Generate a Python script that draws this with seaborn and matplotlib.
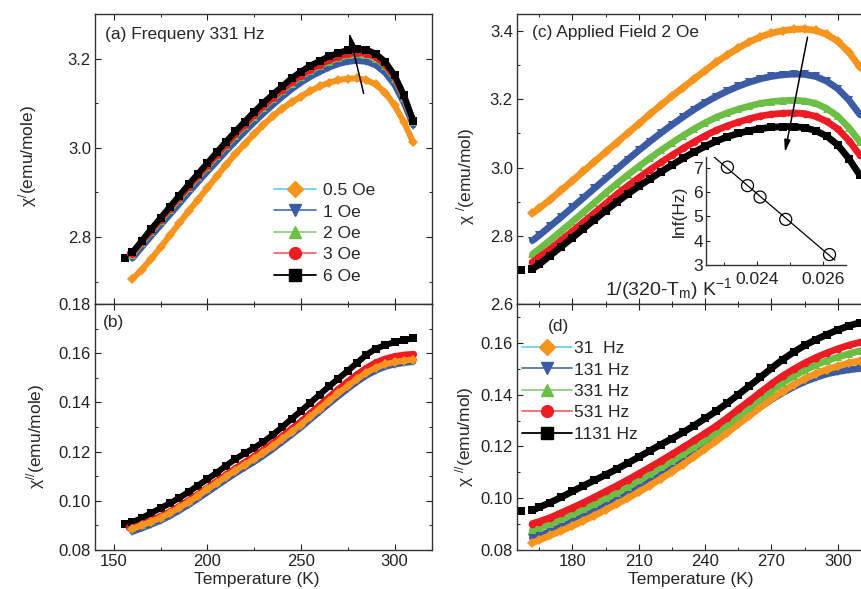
import numpy as np
import pandas as pd
import matplotlib
matplotlib.use("Agg")
import matplotlib.pyplot as plt
import seaborn as sns
from matplotlib.lines import Line2D
from matplotlib.ticker import MultipleLocator

# ---------------- data ----------------
temp_ab = [160, 165, 170, 175, 180, 185, 190, 195, 200, 205, 210, 215, 220, 225, 230,
           235, 240, 245, 250, 255, 260, 265, 270, 275, 280, 285, 290, 295, 300, 305, 310]
temp_cd = [162, 165, 170, 175, 180, 185, 190, 195, 200, 205, 210, 215, 220, 225, 230,
           235, 240, 245, 250, 255, 260, 265, 270, 275, 280, 285, 290, 295, 300, 305, 310]

field_labels = ["0.5 Oe", "1 Oe", "2 Oe", "3 Oe", "6 Oe"]
freq_labels = ["31  Hz", "131 Hz", "331 Hz", "531 Hz", "1131 Hz"]

# (a) chi' at 331 Hz for different fields
a_05 = [2.706, 2.727, 2.751, 2.777, 2.804, 2.831, 2.858, 2.884, 2.910, 2.936, 2.962, 2.986, 3.009, 3.031, 3.052,
        3.071, 3.088, 3.102, 3.115, 3.127, 3.138, 3.146, 3.152, 3.155, 3.156, 3.152, 3.142, 3.124, 3.095, 3.058, 3.012]
a_1 = [2.752, 2.777, 2.802, 2.826, 2.850, 2.874, 2.899, 2.923, 2.946, 2.969, 2.992, 3.014, 3.036, 3.057, 3.077,
       3.096, 3.114, 3.131, 3.146, 3.159, 3.170, 3.180, 3.188, 3.193, 3.195, 3.193, 3.185, 3.168, 3.141, 3.100, 3.050]
a_2 = [2.760, 2.786, 2.811, 2.836, 2.861, 2.885, 2.910, 2.934, 2.957, 2.981, 3.004, 3.027, 3.049, 3.070, 3.090,
       3.109, 3.127, 3.144, 3.159, 3.172, 3.183, 3.193, 3.201, 3.207, 3.210, 3.208, 3.200, 3.183, 3.155, 3.112, 3.058]
a_3 = [2.763, 2.789, 2.814, 2.839, 2.864, 2.888, 2.913, 2.937, 2.960, 2.984, 3.007, 3.030, 3.052, 3.073, 3.093,
       3.112, 3.130, 3.147, 3.162, 3.175, 3.186, 3.196, 3.204, 3.210, 3.213, 3.211, 3.203, 3.186, 3.158, 3.115, 3.061]
a_6 = [2.766, 2.792, 2.818, 2.843, 2.868, 2.893, 2.918, 2.942, 2.966, 2.990, 3.014, 3.037, 3.059, 3.081, 3.101,
       3.120, 3.138, 3.156, 3.171, 3.184, 3.195, 3.205, 3.213, 3.219, 3.222, 3.220, 3.211, 3.193, 3.163, 3.118, 3.060]

# (b) chi'' at 331 Hz for different fields
b_05 = [0.0887, 0.0900, 0.0915, 0.0931, 0.0950, 0.0972, 0.0995, 0.1020, 0.1046, 0.1072, 0.1098, 0.1123, 0.1147, 0.1170, 0.1195,
        0.1222, 0.1251, 0.1280, 0.1310, 0.1342, 0.1374, 0.1406, 0.1437, 0.1467, 0.1495, 0.1521, 0.1541, 0.1555, 0.1564, 0.1570, 0.1574]
b_1 = [0.0874, 0.0888, 0.0903, 0.0919, 0.0938, 0.0960, 0.0983, 0.1008, 0.1034, 0.1060, 0.1086, 0.1111, 0.1135, 0.1158, 0.1183,
       0.1210, 0.1239, 0.1268, 0.1298, 0.1330, 0.1362, 0.1394, 0.1425, 0.1455, 0.1483, 0.1509, 0.1529, 0.1545, 0.1554, 0.1560, 0.1565]
b_2 = [0.0888, 0.0902, 0.0918, 0.0934, 0.0953, 0.0975, 0.0999, 0.1024, 0.1050, 0.1077, 0.1103, 0.1128, 0.1153, 0.1176, 0.1202,
       0.1229, 0.1258, 0.1288, 0.1318, 0.1350, 0.1383, 0.1415, 0.1447, 0.1477, 0.1506, 0.1532, 0.1553, 0.1568, 0.1578, 0.1585, 0.1589]
b_3 = [0.0890, 0.0905, 0.0921, 0.0938, 0.0957, 0.0979, 0.1003, 0.1028, 0.1054, 0.1081, 0.1107, 0.1133, 0.1158, 0.1182, 0.1208,
       0.1235, 0.1264, 0.1294, 0.1324, 0.1357, 0.1390, 0.1423, 0.1455, 0.1486, 0.1515, 0.1541, 0.1563, 0.1578, 0.1588, 0.1594, 0.1597]
b_6 = [0.0913, 0.0930, 0.0950, 0.0970, 0.0990, 0.1012, 0.1036, 0.1062, 0.1088, 0.1114, 0.1143, 0.1170, 0.1193, 0.1215, 0.1240,
       0.1268, 0.1300, 0.1333, 0.1365, 0.1398, 0.1432, 0.1465, 0.1497, 0.1528, 0.1561, 0.1594, 0.1618, 0.1633, 0.1645, 0.1654, 0.1660]

# (c) chi' at 2 Oe for different frequencies
c_31 = [2.866, 2.880, 2.906, 2.933, 2.961, 2.989, 3.017, 3.045, 3.073, 3.100, 3.128, 3.156, 3.183, 3.209, 3.234,
        3.259, 3.284, 3.308, 3.330, 3.350, 3.368, 3.383, 3.394, 3.401, 3.405, 3.406, 3.402, 3.390, 3.370, 3.338, 3.295]
c_131 = [2.786, 2.801, 2.828, 2.855, 2.883, 2.911, 2.939, 2.967, 2.995, 3.023, 3.050, 3.076, 3.101, 3.125, 3.148,
         3.170, 3.190, 3.208, 3.224, 3.238, 3.250, 3.260, 3.267, 3.272, 3.274, 3.273, 3.267, 3.253, 3.231, 3.198, 3.155]
c_331 = [2.746, 2.761, 2.787, 2.814, 2.841, 2.869, 2.897, 2.925, 2.952, 2.978, 3.003, 3.027, 3.050, 3.072, 3.093,
         3.113, 3.131, 3.147, 3.160, 3.171, 3.180, 3.188, 3.193, 3.196, 3.197, 3.195, 3.188, 3.173, 3.150, 3.117, 3.075]
c_531 = [2.723, 2.737, 2.761, 2.787, 2.813, 2.840, 2.867, 2.894, 2.921, 2.946, 2.970, 2.993, 3.015, 3.036, 3.056,
         3.075, 3.093, 3.109, 3.122, 3.133, 3.143, 3.151, 3.156, 3.159, 3.160, 3.158, 3.150, 3.135, 3.113, 3.079, 3.036]
c_1131 = [2.703, 2.716, 2.742, 2.768, 2.794, 2.821, 2.847, 2.873, 2.898, 2.922, 2.945, 2.966, 2.987, 3.007, 3.027,
          3.045, 3.062, 3.077, 3.090, 3.100, 3.108, 3.114, 3.118, 3.120, 3.120, 3.117, 3.108, 3.092, 3.066, 3.026, 2.977]

# (d) chi'' at 2 Oe for different frequencies
d_31 = [0.0828, 0.0838, 0.0856, 0.0874, 0.0893, 0.0913, 0.0933, 0.0955, 0.0977, 0.1000, 0.1024, 0.1049, 0.1075, 0.1102, 0.1130,
        0.1160, 0.1190, 0.1221, 0.1253, 0.1286, 0.1318, 0.1351, 0.1383, 0.1412, 0.1438, 0.1461, 0.1481, 0.1497, 0.1510, 0.1522, 0.1531]
d_131 = [0.0846, 0.0855, 0.0872, 0.0890, 0.0909, 0.0929, 0.0949, 0.0970, 0.0992, 0.1015, 0.1039, 0.1063, 0.1088, 0.1114, 0.1141,
         0.1170, 0.1199, 0.1229, 0.1260, 0.1291, 0.1322, 0.1352, 0.1381, 0.1407, 0.1430, 0.1450, 0.1466, 0.1480, 0.1489, 0.1496, 0.1501]
d_331 = [0.0878, 0.0886, 0.0901, 0.0919, 0.0938, 0.0957, 0.0978, 0.1000, 0.1022, 0.1045, 0.1069, 0.1094, 0.1119, 0.1144, 0.1170,
         0.1197, 0.1225, 0.1254, 0.1285, 0.1317, 0.1350, 0.1383, 0.1415, 0.1445, 0.1471, 0.1494, 0.1514, 0.1531, 0.1545, 0.1558, 0.1569]
d_531 = [0.0902, 0.0910, 0.0925, 0.0944, 0.0963, 0.0983, 0.1004, 0.1026, 0.1048, 0.1071, 0.1095, 0.1119, 0.1144, 0.1170, 0.1196,
         0.1223, 0.1251, 0.1279, 0.1310, 0.1343, 0.1376, 0.1409, 0.1442, 0.1472, 0.1498, 0.1522, 0.1543, 0.1561, 0.1577, 0.1591, 0.1602]
d_1131 = [0.0953, 0.0965, 0.0983, 0.1004, 0.1026, 0.1048, 0.1069, 0.1090, 0.1112, 0.1135, 0.1159, 0.1183, 0.1207, 0.1230, 0.1254,
          0.1280, 0.1308, 0.1336, 0.1367, 0.1400, 0.1433, 0.1467, 0.1502, 0.1535, 0.1564, 0.1590, 0.1612, 0.1632, 0.1650, 0.1666, 0.1678]

# isolated first points (black and red) that sit apart from the bands
lead_a_T = [156.0, 158.5]
lead_a_chi = [2.754, 2.764]
lead_b_T = [156.2, 158.0]
lead_b_chi = [0.0906, 0.0895]
lead_c_T = [157.0]
lead_c_chi = [2.699]
lead_d_T = [156.7]
lead_d_chi = [0.0949]

# inset: ln f vs 1/(320 - Tm)
inset_x = [0.02310, 0.02371, 0.02409, 0.02487, 0.02620]
inset_lnf = [7.03, 6.27, 5.80, 4.88, 3.43]
fit_x_range = [0.02266, 0.02636]

# ---------------- style ----------------
sns.set_style("ticks")
plt.rcParams.update({
    "xtick.direction": "in", "ytick.direction": "in",
    "xtick.top": True, "ytick.right": True,
    "xtick.major.size": 4, "ytick.major.size": 4,
    "xtick.minor.size": 2.5, "ytick.minor.size": 2.5,
    "xtick.major.width": 0.8, "ytick.major.width": 0.8,
    "xtick.minor.width": 0.7, "ytick.minor.width": 0.7,
    "xtick.color": "#222222", "ytick.color": "#222222",
    "axes.edgecolor": "#333333", "axes.linewidth": 1.0,
    "xtick.labelsize": 12, "ytick.labelsize": 12,
    "axes.labelsize": 12.5,
    "mathtext.fontset": "custom",
    "mathtext.rm": "Liberation Sans",
    "mathtext.it": "Liberation Sans:italic",
})
plt.rcParams["font.family"] = ["Liberation Sans", "DejaVu Sans"]

ORANGE, BLUE, GREEN, RED, BLACK = "#F7941D", "#3B5BA5", "#6DBE45", "#ED1C24", "#000000"
series_colors = [ORANGE, BLUE, GREEN, RED, BLACK]
legend_line_colors = ["#6DCFF6", "#5577BB", "#8FD07A", "#F26B6B", "#000000"]
series_markers = ["D", "v", "^", "o", "s"]

W, H = 861, 589
fig = plt.figure(figsize=(W / 100, H / 100), dpi=100)


def rect(l, t, r, b):
    return [l / W, 1 - b / H, (r - l) / W, (b - t) / H]


ax_a = fig.add_axes(rect(95, 14, 432, 304))
ax_b = fig.add_axes(rect(95, 304, 432, 550))
ax_c = fig.add_axes(rect(517, 14, 871, 304))
ax_d = fig.add_axes(rect(517, 304, 871, 550))


def draw_panel(ax, temps, values, labels, draw_order, lw, ms):
    frames = [pd.DataFrame({"T": temps, "chi": v, "series": lab}) for lab, v in zip(labels, values)]
    df = pd.concat(frames, ignore_index=True)
    order = [labels[i] for i in draw_order]
    sns.lineplot(data=df, x="T", y="chi", hue="series", style="series",
                 hue_order=order, style_order=order,
                 palette=dict(zip(labels, series_colors)),
                 markers=dict(zip(labels, series_markers)),
                 dashes=False, lw=lw, markersize=ms, markeredgewidth=0,
                 legend=False, sort=False, estimator=None, ax=ax)


def draw_lead(ax, T, chi, idx):
    for t, c, i in zip(T, chi, idx):
        sns.scatterplot(x=[t], y=[c], marker=series_markers[i], color=series_colors[i],
                        s=30, linewidth=0, ax=ax, legend=False)


draw_panel(ax_a, temp_ab, [a_05, a_1, a_2, a_3, a_6], field_labels, [0, 1, 2, 3, 4], 4.4, 5.2)
draw_lead(ax_a, lead_a_T, lead_a_chi, [4, 3])
draw_panel(ax_b, temp_ab, [b_05, b_1, b_2, b_3, b_6], field_labels, [4, 1, 2, 3, 0], 4.4, 5.2)
draw_lead(ax_b, lead_b_T, lead_b_chi, [4, 3])
draw_panel(ax_c, temp_cd, [c_31, c_131, c_331, c_531, c_1131], freq_labels, [0, 1, 2, 3, 4], 4.9, 5.5)
draw_lead(ax_c, lead_c_T, lead_c_chi, [4])
draw_panel(ax_d, temp_cd, [d_31, d_131, d_331, d_531, d_1131], freq_labels, [1, 0, 2, 3, 4], 4.9, 5.5)
draw_lead(ax_d, lead_d_T, lead_d_chi, [4])

# axes limits & ticks
for ax in (ax_a, ax_b):
    ax.set_xlim(140, 320)
    ax.xaxis.set_major_locator(MultipleLocator(50))
    ax.xaxis.set_minor_locator(MultipleLocator(25))
for ax in (ax_c, ax_d):
    ax.set_xlim(155, 315)
    ax.xaxis.set_major_locator(MultipleLocator(30))
    ax.xaxis.set_minor_locator(MultipleLocator(15))

ax_a.set_ylim(2.65, 3.3)
ax_a.yaxis.set_major_locator(MultipleLocator(0.2))
ax_a.yaxis.set_minor_locator(MultipleLocator(0.1))
ax_b.set_ylim(0.08, 0.18)
ax_b.yaxis.set_major_locator(MultipleLocator(0.02))
ax_b.yaxis.set_minor_locator(MultipleLocator(0.01))
ax_c.set_ylim(2.6, 3.45)
ax_c.yaxis.set_major_locator(MultipleLocator(0.2))
ax_c.yaxis.set_minor_locator(MultipleLocator(0.1))
ax_d.set_ylim(0.08, 0.175)
ax_d.yaxis.set_major_locator(MultipleLocator(0.02))
ax_d.yaxis.set_minor_locator(MultipleLocator(0.01))

ax_a.yaxis.set_major_formatter(lambda v, p: f"{v:.1f}")
ax_c.yaxis.set_major_formatter(lambda v, p: f"{v:.1f}")
ax_b.yaxis.set_major_formatter(lambda v, p: f"{v:.2f}")
ax_d.yaxis.set_major_formatter(lambda v, p: f"{v:.2f}")

for ax in (ax_a, ax_b, ax_c, ax_d):
    ax.tick_params(which="both", top=True, right=True, pad=3)
    for sp in ax.spines.values():
        sp.set_visible(True)
    ax.set_xlabel("")
    ax.set_ylabel("")

ax_a.tick_params(axis="x", labelbottom=False)
ax_c.tick_params(axis="x", labelbottom=False)

ax_a.set_ylabel(r"χ$^{/}$(emu/mole)")
ax_a.yaxis.set_label_coords(-0.167, 0.51)
ax_b.set_ylabel(r"χ$^{//}$(emu/mole)")
ax_b.yaxis.set_label_coords(-0.143, 0.463)
ax_c.set_ylabel(r"χ $^{/}$(emu/mol)")
ax_c.yaxis.set_label_coords(-0.112, 0.44)
ax_d.set_ylabel(r"χ $^{//}$(emu/mol)")
ax_d.yaxis.set_label_coords(-0.115, 0.46)
ax_b.set_xlabel("Temperature (K)")
ax_b.xaxis.set_label_coords(0.48, -0.09)
ax_d.set_xlabel("Temperature (K)")
ax_d.xaxis.set_label_coords(0.49, -0.09)

# panel annotations
fig.text(105 / W, 1 - 34 / H, "(a) Frequeny 331 Hz", fontsize=12.5, va="center")
fig.text(103 / W, 1 - 322 / H, "(b)", fontsize=12.5, va="center")
fig.text(532 / W, 1 - 33 / H, "(c) Applied Field 2 Oe", fontsize=12.5, va="center")
fig.text(548 / W, 1 - 326 / H, "(d)", fontsize=12.5, va="center")

# arrows
arrow_style = dict(arrowstyle="-|>,head_width=0.18,head_length=0.7", color="black", lw=1.1, shrinkA=0, shrinkB=0)
ax_a.annotate("", xy=(275.7, 3.258), xytext=(283.5, 3.122), arrowprops=arrow_style)
ax_c.annotate("", xy=(276.1, 3.045), xytext=(286.3, 3.382), arrowprops=arrow_style)

# legends
def make_handles(labels):
    return [Line2D([0], [0], color=lc, lw=1.3, marker=m, markerfacecolor=c, markeredgecolor=c,
                   markersize=8.5, label=lab)
            for lab, lc, m, c in zip(labels, legend_line_colors, series_markers, series_colors)]

fig.legend(handles=make_handles(field_labels), loc="upper left",
           bbox_to_anchor=(274 / W, 1 - 183 / H), frameon=False, fontsize=12.5,
           borderaxespad=0, borderpad=0, handlelength=2.4, handletextpad=0.45, labelspacing=0.36)
fig.legend(handles=make_handles(freq_labels), loc="upper left",
           bbox_to_anchor=(522 / W, 1 - 341 / H), frameon=False, fontsize=12.5,
           borderaxespad=0, borderpad=0, handlelength=2.9, handletextpad=0.12, labelspacing=0.36)

# inset
ax_in = fig.add_axes(rect(706, 157, 846, 265))
ax_in.set_facecolor("none")
sns.scatterplot(x=inset_x, y=inset_lnf, marker="o", s=75, ax=ax_in, legend=False, zorder=3)
pts = ax_in.collections[-1]
pts.set_facecolor("none")
pts.set_edgecolor("black")
pts.set_linewidth(0.9)
slope, intercept = np.polyfit(inset_x, inset_lnf, 1)
fit_x = np.array(fit_x_range)
sns.lineplot(x=fit_x, y=slope * fit_x + intercept, color="black", lw=0.9, ax=ax_in)
ax_in.set_xlim(0.02245, 0.0267)
ax_in.set_ylim(3, 7.45)
ax_in.xaxis.set_major_locator(MultipleLocator(0.002))
ax_in.xaxis.set_minor_locator(MultipleLocator(0.001))
ax_in.yaxis.set_major_locator(MultipleLocator(1))
ax_in.xaxis.set_major_formatter(lambda v, p: f"{v:.3f}")
ax_in.spines["top"].set_visible(False)
ax_in.spines["right"].set_visible(False)
ax_in.tick_params(which="both", top=False, right=False, direction="in", labelsize=12.5, pad=2)
ax_in.tick_params(axis="x", which="major", pad=5)
ax_in.tick_params(which="major", length=3)
ax_in.tick_params(which="minor", length=2)
ax_in.set_xlabel("")
ax_in.set_ylabel("lnf(Hz)", fontsize=12.5, labelpad=5)
fig.text(733 / W, 1 - 289 / H, r"1/(320-T$_\mathrm{m}$) K$^{-1}$", fontsize=14, ha="right", va="center")

fig.savefig("out.png", dpi=100)
